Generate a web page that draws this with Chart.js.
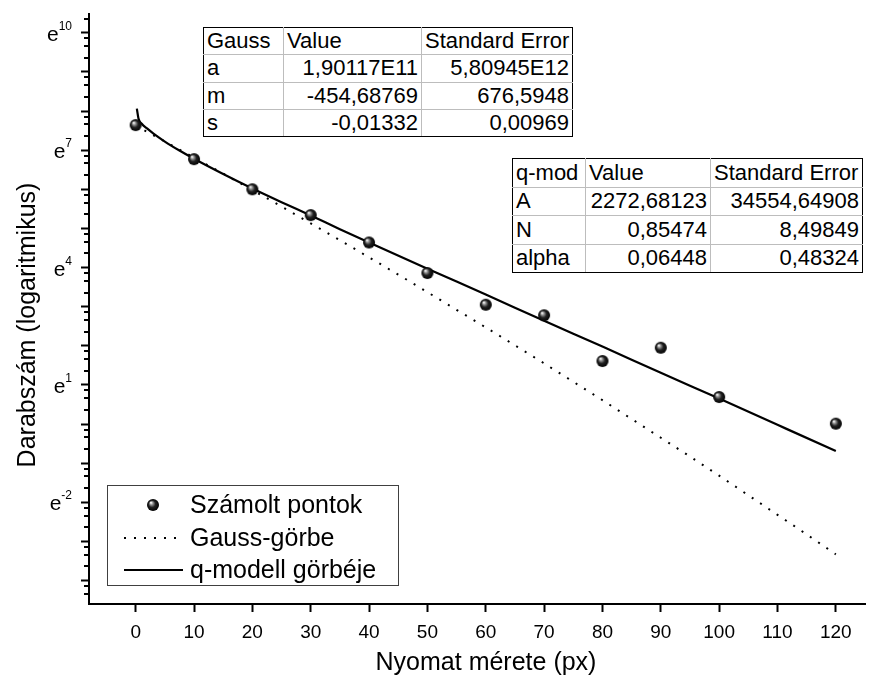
<!DOCTYPE html>
<html>
<head>
<meta charset="utf-8">
<script src="https://cdn.jsdelivr.net/npm/chart.js@4/dist/chart.umd.min.js"></script>
<style>
html,body{margin:0;padding:0;background:#fff;}
#wrap{position:relative;width:872px;height:683px;overflow:hidden;}
#c{position:absolute;left:0;top:0;}
table.fit{position:absolute;border-collapse:collapse;table-layout:fixed;font-family:"Liberation Sans",Arial,sans-serif;font-size:22px;color:#000;background:#fff;}
table.fit td{border:1px solid #bdbdbd;padding:0 3px;white-space:nowrap;overflow:hidden;line-height:20px;}
table.fit td.num{text-align:right;}
table.fit tr:first-child td{border-top-color:#000;}
table.fit tr:last-child td{border-bottom-color:#000;}
table.fit td:first-child{border-left-color:#000;}
table.fit td:last-child{border-right-color:#000;}
</style>
</head>
<body>
<div id="wrap">
<canvas id="c" width="872" height="683"></canvas>
<table class="fit" id="gaussTable" style="left:203px;top:27px;width:369px;"></table>
<table class="fit" id="qTable" style="left:512px;top:158px;width:350px;"></table>
</div>
<script>
// ---------- data (exponents of e) ----------
const pointX   = [0, 10, 20, 30, 40, 50, 60, 70, 80, 90, 100, 120];
const pointLnY = [7.64, 6.77, 6.00, 5.34, 4.64, 3.86, 3.05, 2.78, 1.61, 1.95, 0.69, 0.01];

const gaussX   = [0, 5, 10, 15, 20, 25, 30, 35, 40, 45, 50, 55, 60, 65, 70, 75, 80, 85, 90, 95, 100, 105, 110, 115, 120];
const gaussLnY = [7.63, 7.22, 6.81, 6.40, 5.98, 5.56, 5.13, 4.70, 4.26, 3.82, 3.37, 2.92, 2.47, 2.01, 1.55, 1.08, 0.61, 0.13, -0.35, -0.83, -1.32, -1.82, -2.32, -2.82, -3.33];

const qX   = [0.2, 0.5, 1, 2, 3, 5, 7.5, 10, 15, 20, 25, 30, 35, 40, 50, 60, 70, 80, 90, 100, 110, 120];
const qLnY = [8.06, 7.80, 7.68, 7.55, 7.43, 7.22, 6.99, 6.78, 6.39, 6.02, 5.67, 5.33, 4.98, 4.64, 3.97, 3.31, 2.64, 1.98, 1.31, 0.65, -0.02, -0.69];

const xTickValues      = [0, 10, 20, 30, 40, 50, 60, 70, 80, 90, 100, 110, 120];
const yMajorExponents  = [-4, -3, -2, -1, 0, 1, 2, 3, 4, 5, 6, 7, 8, 9, 10];
const yLabelExponents  = [-2, 1, 4, 7, 10];
const yMinorFractions  = [0.36, 0.66, 0.86];

const seriesNames = ['Számolt pontok', 'Gauss-görbe', 'q-modell görbéje'];
const xTitle = 'Nyomat mérete (px)';
const yTitle = 'Darabszám (logaritmikus)';

const gaussHeader = ['Gauss', 'Value', 'Standard Error'];
const gaussParams = ['a', 'm', 's'];
const gaussValues = ['1,90117E11', '-454,68769', '-0,01332'];
const gaussErrors = ['5,80945E12', '676,5948', '0,00969'];

const qHeader = ['q-mod', 'Value', 'Standard Error'];
const qParams = ['A', 'N', 'alpha'];
const qValues = ['2272,68123', '0,85474', '0,06448'];
const qErrors = ['34554,64908', '8,49849', '0,48324'];

// ---------- tables ----------
function buildTable(id, header, params, values, errors, colW, rowH){
  const t = document.getElementById(id);
  let html = '<colgroup>' + colW.map(w => '<col style="width:' + w + 'px">').join('') + '</colgroup>';
  html += '<tr style="height:' + rowH + 'px"><td>' + header[0] + '</td><td>' + header[1] + '</td><td>' + header[2] + '</td></tr>';
  for (let i = 0; i < params.length; i++) {
    html += '<tr style="height:' + rowH + 'px"><td>' + params[i] + '</td><td class="num">' + values[i] + '</td><td class="num">' + errors[i] + '</td></tr>';
  }
  t.innerHTML = html;
}
buildTable('gaussTable', gaussHeader, gaussParams, gaussValues, gaussErrors, [80, 138, 151], 27.25);
buildTable('qTable', qHeader, qParams, qValues, qErrors, [73, 125, 152], 28.5);

// ---------- chart ----------
const FONT = '"Liberation Sans", Arial, sans-serif';

function makeBall(r){
  const s = 2 * r + 2;
  const c = document.createElement('canvas');
  c.width = s; c.height = s;
  const g = c.getContext('2d');
  const cx = s / 2, cy = s / 2;
  const grad = g.createRadialGradient(cx - r * 0.35, cy - r * 0.4, r * 0.05, cx, cy, r);
  grad.addColorStop(0, '#ffffff');
  grad.addColorStop(0.22, '#9a9a9a');
  grad.addColorStop(0.55, '#222222');
  grad.addColorStop(1, '#000000');
  g.fillStyle = grad;
  g.beginPath(); g.arc(cx, cy, r, 0, Math.PI * 2); g.fill();
  return c;
}
const ball = makeBall(6);

const toPts = (xs, lns) => xs.map((x, i) => ({x: x, y: Math.exp(lns[i])}));

const axisExtras = {
  id: 'axisExtras',
  afterDraw(chart){
    const ctx = chart.ctx;
    const ys = chart.scales.y;
    const area = chart.chartArea;
    const left = area.left;
    ctx.save();
    // minor ticks on the log-e axis
    ctx.strokeStyle = '#000'; ctx.lineWidth = 2;
    ctx.beginPath();
    for (let n = -5; n <= 10; n++) {
      for (const f of yMinorFractions) {
        const v = Math.exp(n + f);
        if (v < ys.min || v > ys.max) continue;
        const py = Math.round(ys.getPixelForValue(v));
        ctx.moveTo(left - 5, py); ctx.lineTo(left, py);
      }
    }
    ctx.stroke();
    // e^n labels
    ctx.fillStyle = '#000';
    ctx.textBaseline = 'alphabetic';
    for (const n of yLabelExponents) {
      const py = ys.getPixelForValue(Math.exp(n));
      const exp = String(n);
      ctx.font = '12px ' + FONT;
      const ew = ctx.measureText(exp).width;
      const right = 72;
      ctx.textAlign = 'right';
      ctx.fillText(exp, right, py - 3);
      ctx.font = '21px ' + FONT;
      ctx.fillText('e', right - ew, py + 8);
    }
    // axis titles
    ctx.font = '25px ' + FONT;
    ctx.textAlign = 'center'; ctx.textBaseline = 'middle';
    ctx.fillText(xTitle, 486, 663);
    ctx.save();
    ctx.translate(28, 325);
    ctx.rotate(-Math.PI / 2);
    ctx.fillText(yTitle, 0, 0);
    ctx.restore();
    // legend
    const lx = 107, ly = 485, lw = 291, lh = 100;
    ctx.strokeStyle = '#404040'; ctx.lineWidth = 1;
    ctx.strokeRect(lx + 0.5, ly + 0.5, lw, lh);
    const rows = [505, 538, 570];
    ctx.drawImage(ball, 153 - ball.width / 2, rows[0] - ball.height / 2);
    ctx.strokeStyle = '#000'; ctx.lineWidth = 2;
    ctx.setLineDash([2, 8]);
    ctx.beginPath(); ctx.moveTo(124, rows[1]); ctx.lineTo(184, rows[1]); ctx.stroke();
    ctx.setLineDash([]);
    ctx.beginPath(); ctx.moveTo(124, rows[2]); ctx.lineTo(183, rows[2]); ctx.stroke();
    ctx.font = '25px ' + FONT;
    ctx.textAlign = 'left'; ctx.textBaseline = 'middle';
    for (let i = 0; i < 3; i++) ctx.fillText(seriesNames[i], 190, rows[i] + 1);
    ctx.restore();
  }
};

new Chart(document.getElementById('c'), {
  type: 'line',
  data: {
    datasets: [
      {
        label: seriesNames[1],
        data: toPts(gaussX, gaussLnY),
        borderColor: '#000', borderWidth: 2, borderDash: [2, 8],
        pointRadius: 0, fill: false, tension: 0, order: 2
      },
      {
        label: seriesNames[2],
        data: toPts(qX, qLnY),
        borderColor: '#000', borderWidth: 2.2,
        pointRadius: 0, fill: false, cubicInterpolationMode: 'monotone', order: 1
      },
      {
        label: seriesNames[0],
        data: toPts(pointX, pointLnY),
        showLine: false, pointStyle: ball, pointRadius: 6,
        borderColor: '#000', backgroundColor: '#000', order: 0
      }
    ]
  },
  options: {
    responsive: false, animation: false, devicePixelRatio: 1,
    layout: {padding: {top: 14, right: 3, left: 0, bottom: 0}},
    plugins: {legend: {display: false}, tooltip: {enabled: false}},
    scales: {
      x: {
        type: 'linear', min: -8, max: 125,
        afterBuildTicks: s => { s.ticks = xTickValues.map(v => ({value: v})); },
        afterFit: s => { s.height = 79; s.paddingLeft = 0; s.paddingRight = 0; },
        ticks: {font: {family: FONT, size: 19}, color: '#000', padding: 9, maxRotation: 0, autoSkip: false, callback: v => String(v)},
        grid: {drawOnChartArea: false, drawTicks: true, tickLength: 8, tickColor: '#000', tickWidth: 2},
        border: {display: true, color: '#000', width: 2},
        title: {display: false}
      },
      y: {
        type: 'logarithmic', min: Math.exp(-4.6), max: Math.exp(10.48),
        afterBuildTicks: s => { s.ticks = yMajorExponents.map(n => ({value: Math.exp(n)})); },
        afterFit: s => { s.width = 89; s.paddingTop = 0; s.paddingBottom = 0; },
        ticks: {display: false},
        grid: {drawOnChartArea: false, drawTicks: true, tickLength: 8, tickColor: '#000', tickWidth: 2},
        border: {display: true, color: '#000', width: 2},
        title: {display: false}
      }
    }
  },
  plugins: [axisExtras]
});
</script>
</body>
</html>
